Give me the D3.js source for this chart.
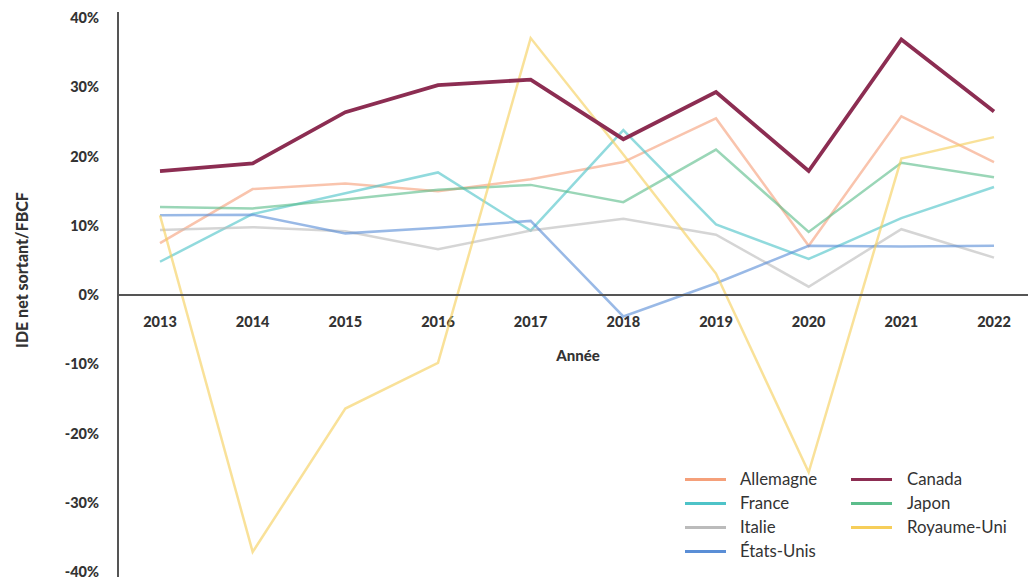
<!DOCTYPE html>
<html><head><meta charset="utf-8">
<script src="https://cdn.jsdelivr.net/npm/d3@7"></script>
<style>body{margin:0;background:#fff}svg{display:block}</style>
</head><body><svg id="c" width="1028" height="577"></svg>
<script>
const years = ["2013","2014","2015","2016","2017","2018","2019","2020","2021","2022"];
const yTicks = [-40,-30,-20,-10,0,10,20,30,40];
const allemagne  = [7.5,15.3,16.1,15.0,16.7,19.2,25.5,7.1,25.8,19.2];
const france     = [4.8,11.7,14.7,17.7,9.3,23.8,10.2,5.2,11.1,15.6];
const italie     = [9.4,9.8,9.2,6.6,9.3,11.0,8.7,1.2,9.5,5.4];
const etatsUnis  = [11.5,11.6,8.9,9.7,10.7,-3.1,1.7,7.1,7.0,7.1];
const canada     = [17.9,19.0,26.4,30.3,31.1,22.5,29.3,17.9,36.9,26.5];
const japon      = [12.7,12.5,13.8,15.2,15.9,13.4,21.0,9.1,19.1,17.0];
const royaumeUni = [11.5,-37.1,-16.4,-9.8,37.1,20.3,3.1,-25.6,19.7,22.8];
const seriesNames = ["Allemagne","France","Italie","États-Unis","Canada","Japon","Royaume-Uni"];
const seriesValues = [allemagne,france,italie,etatsUnis,canada,japon,royaumeUni];
const colors = ["#F5A07A","#4EC3C8","#BBBBBB","#5A8ED6","#8C2D52","#5CBD8B","#F6CE5A"];

const svg = d3.select("#c");
const x = d3.scalePoint().domain(years).range([160,994]);
const y = d3.scaleLinear().domain([-40,40]).range([572,18]);
const font = "Lato, 'Open Sans', sans-serif";

// y tick labels
svg.append("g").selectAll("text").data(yTicks).join("text")
  .attr("x",99).attr("y",d=>y(d)).attr("dy","0.35em")
  .attr("text-anchor","end").attr("font-family",font).attr("font-weight","900")
  .attr("font-size",14.5).attr("fill","#333").text(d=>d+"%");

// x tick labels
svg.append("g").selectAll("text").data(years).join("text")
  .attr("x",d=>x(d)).attr("y",327).attr("text-anchor","middle")
  .attr("font-family",font).attr("font-weight","900").attr("font-size",14.5)
  .attr("fill","#333").text(d=>d);

// axis titles
svg.append("text").attr("x",578).attr("y",361).attr("text-anchor","middle")
  .attr("font-family",font).attr("font-weight","900").attr("font-size",15)
  .attr("fill","#333").text("Année");
svg.append("text").attr("transform","translate(28,270) rotate(-90)")
  .attr("text-anchor","middle").attr("font-family",font).attr("font-weight","900")
  .attr("font-size",16).attr("fill","#333").text("IDE net sortant/FBCF");

// lines
const line = d3.line().x((d,i)=>x(years[i])).y(d=>y(d));
const order = [0,1,2,3,5,6,4];
svg.append("g").selectAll("path").data(order).join("path")
  .attr("d",i=>line(seriesValues[i])).attr("fill","none")
  .attr("stroke",i=>colors[i])
  .attr("stroke-width",i=>i===4?3.8:2.5)
  .attr("stroke-opacity",i=>i===4?1:0.62)
  .attr("stroke-linejoin","miter");

// axes lines
svg.append("line").attr("x1",118).attr("x2",118).attr("y1",12).attr("y2",577)
  .attr("stroke","#555").attr("stroke-width",2);
svg.append("line").attr("x1",118).attr("x2",1028).attr("y1",y(0)).attr("y2",y(0))
  .attr("stroke","#555").attr("stroke-width",2);

// legend
const leg = svg.append("g");
seriesNames.forEach((n,i)=>{
  const col = i<4?0:1, row = i<4?i:i-4;
  const lx = col===0?685:851, ly = 479.5 + row*24;
  leg.append("line").attr("x1",lx).attr("x2",lx+41).attr("y1",ly).attr("y2",ly)
    .attr("stroke",colors[i]).attr("stroke-width",3);
  leg.append("text").attr("x",col===0?740:907).attr("y",ly).attr("dy","0.35em")
    .attr("font-family",font).attr("font-size",16.8).attr("fill","#333").text(n);
});
</script></body></html>
